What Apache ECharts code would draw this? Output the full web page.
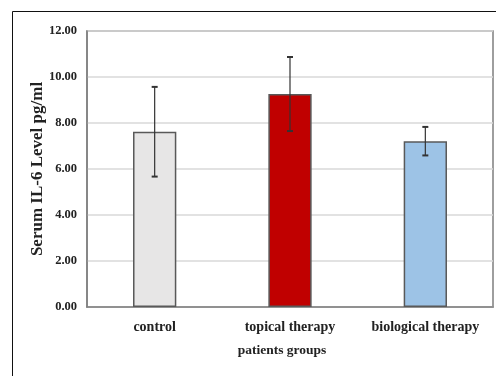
<!DOCTYPE html>
<html><head><meta charset="utf-8">
<script src="https://cdn.jsdelivr.net/npm/echarts@6/dist/echarts.min.js"></script>
<style>html,body{margin:0;padding:0;background:#fff}#c{width:496px;height:376px}</style>
</head><body><div id="c"></div>
<script>
const categories = ['control', 'topical therapy', 'biological therapy'];
const meanValues = [7.62, 9.26, 7.21];
const errorValues = [1.95, 1.61, 0.62];
const barColors = ['#e7e6e6', '#c00000', '#9dc3e6'];
const yTicks = [0, 2, 4, 6, 8, 10, 12];

const font = '"Liberation Serif", "Times New Roman", serif';
const chart = echarts.init(document.getElementById('c'));
chart.setOption({
  animation: false,
  backgroundColor: '#fff',
  graphic: [{
    type: 'rect', shape: { x: 12.5, y: 11.5, width: 500, height: 400 },
    style: { fill: 'none', stroke: '#111', lineWidth: 1 }, z: 0
  }],
  grid: { left: 87, top: 31, right: 3, bottom: 69, show: true, borderColor: '#7f7f7f', borderWidth: 1.5, backgroundColor: 'transparent' },
  xAxis: {
    type: 'category', data: categories,
    name: 'patients groups', nameLocation: 'middle', nameGap: 37, nameMoveOverlap: false,
    nameTextStyle: { fontFamily: font, fontWeight: 'bold', fontSize: 13.5, color: '#222', padding: [0, 16, 0, 0] },
    axisLine: { lineStyle: { color: '#7f7f7f', width: 1.5 } },
    axisTick: { show: false },
    axisLabel: { interval: 0, fontFamily: font, fontWeight: 'bold', fontSize: 14, color: '#222', margin: 13 }
  },
  yAxis: {
    type: 'value', min: yTicks[0], max: yTicks[yTicks.length - 1], interval: 2,
    name: 'Serum IL-6 Level pg/ml', nameLocation: 'middle', nameGap: 41, nameMoveOverlap: false,
    nameTextStyle: { fontFamily: font, fontWeight: 'bold', fontSize: 17, color: '#222' },
    axisLine: { show: true, lineStyle: { color: '#7f7f7f', width: 1.5 } },
    axisTick: { show: false },
    splitLine: { lineStyle: { color: '#d9d9d9', width: 1.5 } },
    axisLabel: { fontFamily: font, fontWeight: 'bold', fontSize: 12.5, color: '#222', margin: 10,
      formatter: v => v.toFixed(2) }
  },
  series: [{
    type: 'bar', barWidth: '32%',
    data: meanValues.map((v, i) => ({ value: v, itemStyle: { color: barColors[i] } })),
    itemStyle: { borderColor: '#595959', borderWidth: 1.5 }
  }, {
    type: 'custom',
    data: meanValues.map((v, i) => [i, v - errorValues[i], v + errorValues[i]]),
    renderItem: function (params, api) {
      const lo = api.coord([api.value(0), api.value(1)]);
      const hi = api.coord([api.value(0), api.value(2)]);
      const x = lo[0], hw = 3;
      const st = { stroke: '#333', lineWidth: 1.2 };
      return { type: 'group', children: [
        { type: 'line', shape: { x1: x, y1: lo[1], x2: x, y2: hi[1] }, style: st },
        { type: 'line', shape: { x1: x - hw, y1: lo[1], x2: x + hw, y2: lo[1] }, style: Object.assign({}, st, {lineWidth: 2}) },
        { type: 'line', shape: { x1: x - hw, y1: hi[1], x2: x + hw, y2: hi[1] }, style: Object.assign({}, st, {lineWidth: 2}) }
      ]};
    },
    z: 10
  }]
});
</script></body></html>
